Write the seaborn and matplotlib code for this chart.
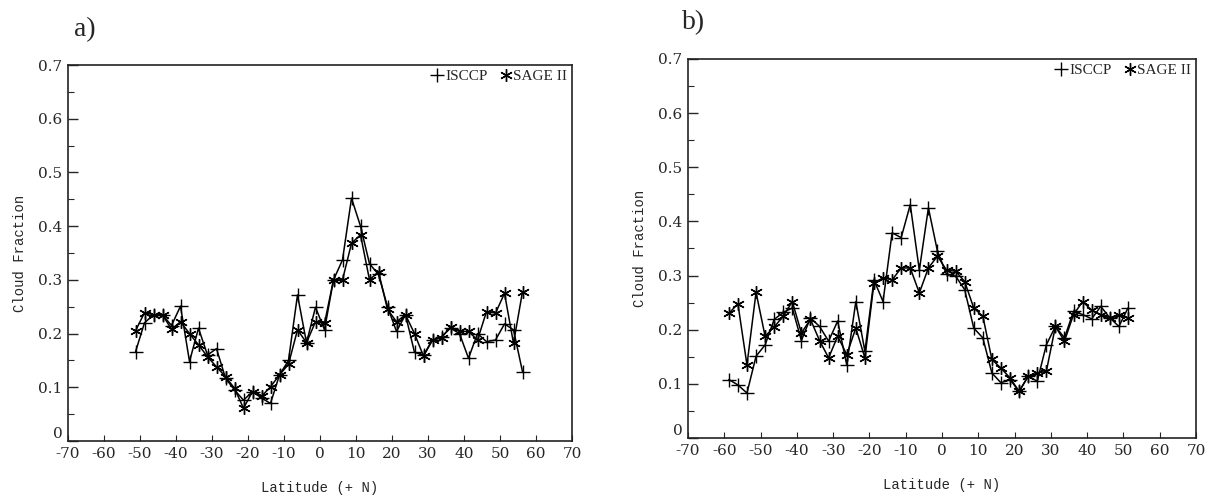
import numpy as np
import pandas as pd
import matplotlib
matplotlib.use("Agg")
import matplotlib.pyplot as plt
from matplotlib.lines import Line2D
import seaborn as sns

# ---- data ----
lat_a = [-51.25, -48.75, -46.25, -43.75, -41.25, -38.75, -36.25, -33.75, -31.25, -28.75,
         -26.25, -23.75, -21.25, -18.75, -16.25, -13.75, -11.25, -8.75, -6.25, -3.75,
         -1.25, 1.25, 3.75, 6.25, 8.75, 11.25, 13.75, 16.25, 18.75, 21.25,
         23.75, 26.25, 28.75, 31.25, 33.75, 36.25, 38.75, 41.25, 43.75, 46.25,
         48.75, 51.25, 53.75, 56.25]
isccp_a = [0.166, 0.220, 0.235, 0.235, 0.215, 0.251, 0.148, 0.210, 0.160, 0.172,
           0.117, 0.095, 0.076, 0.092, 0.080, 0.070, 0.123, 0.150, 0.272, 0.183,
           0.249, 0.207, 0.300, 0.337, 0.452, 0.400, 0.330, 0.310, 0.250, 0.204,
           0.235, 0.165, 0.160, 0.188, 0.194, 0.210, 0.200, 0.154, 0.200, 0.185,
           0.188, 0.218, 0.207, 0.129]
sage_a = [0.205, 0.239, 0.235, 0.235, 0.208, 0.222, 0.200, 0.179, 0.157, 0.138,
          0.120, 0.098, 0.061, 0.092, 0.083, 0.101, 0.123, 0.143, 0.207, 0.183,
          0.222, 0.219, 0.300, 0.300, 0.368, 0.384, 0.300, 0.315, 0.245, 0.222,
          0.235, 0.200, 0.158, 0.188, 0.192, 0.213, 0.204, 0.204, 0.188, 0.241,
          0.238, 0.275, 0.182, 0.278]

lat_b = [-58.75, -56.25, -53.75, -51.25, -48.75, -46.25, -43.75, -41.25, -38.75, -36.25,
         -33.75, -31.25, -28.75, -26.25, -23.75, -21.25, -18.75, -16.25, -13.75, -11.25,
         -8.75, -6.25, -3.75, -1.25, 1.25, 3.75, 6.25, 8.75, 11.25, 13.75,
         16.25, 18.75, 21.25, 23.75, 26.25, 28.75, 31.25, 33.75, 36.25, 38.75,
         41.25, 43.75, 46.25, 48.75, 51.25]
isccp_b = [0.108, 0.098, 0.083, 0.151, 0.172, 0.219, 0.232, 0.240, 0.180, 0.222,
           0.206, 0.179, 0.216, 0.135, 0.252, 0.160, 0.292, 0.252, 0.379, 0.370,
           0.431, 0.310, 0.425, 0.345, 0.302, 0.299, 0.274, 0.203, 0.185, 0.120,
           0.102, 0.108, 0.086, 0.114, 0.105, 0.172, 0.206, 0.185, 0.234, 0.228,
           0.220, 0.243, 0.222, 0.206, 0.240]
sage_b = [0.230, 0.248, 0.135, 0.269, 0.188, 0.205, 0.225, 0.252, 0.194, 0.219,
          0.180, 0.148, 0.188, 0.154, 0.203, 0.148, 0.286, 0.296, 0.292, 0.314,
          0.314, 0.268, 0.314, 0.336, 0.310, 0.308, 0.289, 0.240, 0.225, 0.145,
          0.129, 0.111, 0.086, 0.114, 0.120, 0.123, 0.206, 0.179, 0.228, 0.252,
          0.236, 0.228, 0.222, 0.228, 0.222]

x_ticks = [-70, -60, -50, -40, -30, -20, -10, 0, 10, 20, 30, 40, 50, 60, 70]
x_ticklabels = ["-70", "-60", "-50", "-40", "-30", "-20", "-10", "0", "10", "20", "30", "40", "50", "60", "70"]
y_ticks = [0, 0.1, 0.2, 0.3, 0.4, 0.5, 0.6, 0.7]
y_ticklabels = ["0", "0.1", "0.2", "0.3", "0.4", "0.5", "0.6", "0.7"]
series_names = ["ISCCP", "SAGE II"]
panel_labels = ["a)", "b)"]
xlabel = "Latitude (+ N)"
ylabel = "Cloud Fraction"

sns.set_style("ticks")
plt.rcParams['font.family'] = ['DejaVu Serif']

W, H = 1205, 495
fig = plt.figure(figsize=(W / 100, H / 100), dpi=100)

ast = (6, 2, 0)
boxes = [(68, 572, 65, 441), (688, 1196, 59, 438)]
datasets = [(lat_a, isccp_a, sage_a), (lat_b, isccp_b, sage_b)]
plab_pos = [(74, 30), (682, 23)]

for i, ((l, r, t, b), (lat, iv, sv)) in enumerate(zip(boxes, datasets)):
    ax = fig.add_axes([l / W, (H - b) / H, (r - l) / W, (b - t) / H])
    df = pd.DataFrame({"lat": lat, "isccp": iv, "sage": sv})
    sns.lineplot(data=df, x="lat", y="isccp", ax=ax, color="black", lw=1.1,
                 marker="+", markersize=10, markeredgewidth=1.0,
                 markeredgecolor="black", markerfacecolor="black", estimator=None)
    sns.lineplot(data=df, x="lat", y="sage", ax=ax, color="black", lw=1.1,
                 marker=ast, markersize=9, markeredgewidth=1.0,
                 markeredgecolor="black", markerfacecolor="black", estimator=None)
    ax.set_xlim(-70, 70)
    ax.set_ylim(0, 0.7)
    ax.set_xticks(x_ticks)
    ax.set_xticklabels(x_ticklabels, fontsize=11, family="DejaVu Serif")
    ax.set_yticks(y_ticks)
    ax.set_yticklabels(y_ticklabels, fontsize=11, family="DejaVu Serif")
    ax.get_yticklabels()[0].set_verticalalignment("bottom")
    ax.set_yticks(np.arange(0.05, 0.7, 0.1), minor=True)
    ax.tick_params(axis="y", which="major", direction="in", length=7, width=1.0, pad=4)
    ax.tick_params(axis="y", which="minor", direction="in", length=4, width=0.8)
    ax.tick_params(axis="x", which="major", direction="in", length=4, width=0.8, pad=4)
    for s in ax.spines.values():
        s.set_visible(True)
        s.set_linewidth(1.2)
        s.set_color("#222222")
    ax.set_xlabel(xlabel, fontsize=10, family="Liberation Mono", labelpad=15)
    ax.set_ylabel(ylabel, fontsize=10, family="Liberation Mono", labelpad=8)
    handles = [Line2D([], [], color="black", marker="+", ls="none", markersize=10, markeredgewidth=1.0),
               Line2D([], [], color="black", marker=ast, ls="none", markersize=9, markeredgewidth=1.0)]
    ax.legend(handles, series_names, ncol=2, loc="upper right", frameon=False,
              handlelength=0.8, handletextpad=0.1, columnspacing=0.8,
              borderaxespad=0.1, borderpad=0.2,
              prop={"family": "Liberation Serif", "size": 11})
    fig.text(plab_pos[i][0] / W, 1 - plab_pos[i][1] / H, panel_labels[i],
             fontsize=20, family="Liberation Serif", va="center", ha="left")

fig.savefig("out.png", dpi=100)
